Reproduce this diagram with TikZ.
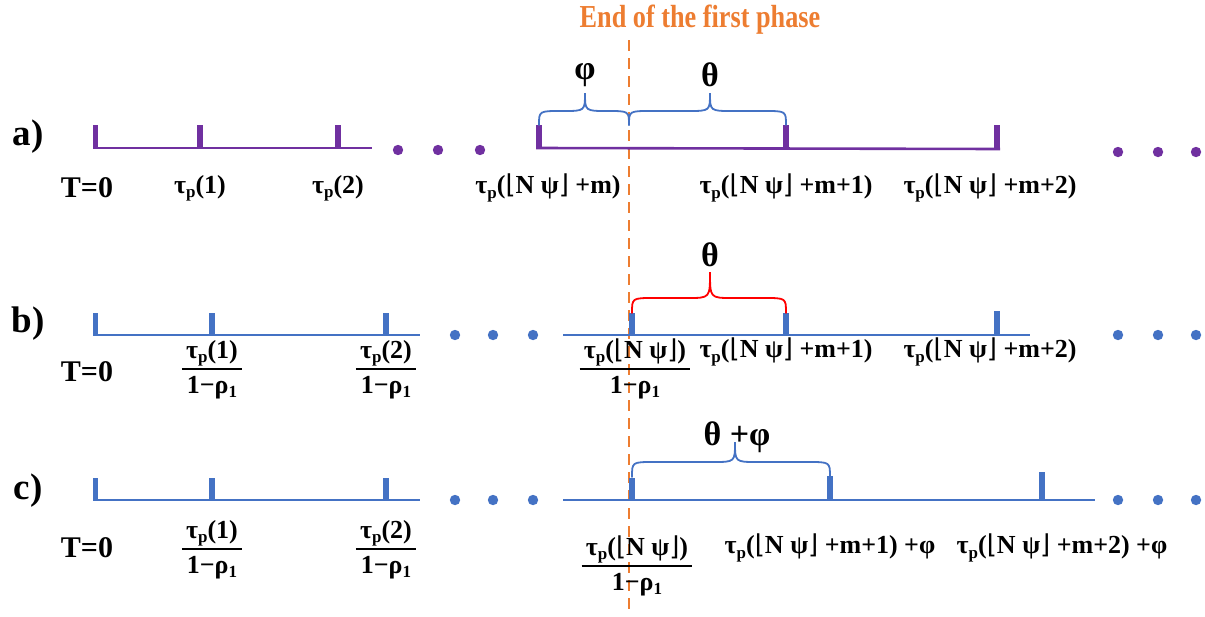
\documentclass[tikz,border=0pt]{standalone}
\usepackage{fontspec}
\setmainfont{Liberation Serif}
\newfontfamily\titlefnt{Liberation Serif}[FakeStretch=0.82]
\newfontfamily\symfnt{DejaVu Sans}
\usetikzlibrary{calc}
\definecolor{myorange}{RGB}{237,125,49}
\definecolor{mypurple}{RGB}{112,48,160}
\definecolor{myblue}{RGB}{68,114,196}
\definecolor{myred}{RGB}{255,0,0}
\setlength{\arrayrulewidth}{1.8pt}
\newcommand\flo{{\symfnt\mdseries ⌊}}
\newcommand\flc{{\symfnt\mdseries ⌋}}
\newcommand\psb[1]{\raisebox{-0.35ex}{\fontsize{17}{17}\selectfont #1}}
\newcommand\tp{τ\psb{p}}
\newcommand\Np{\flo N ψ\flc}
\newcommand\frc[2]{\begin{tabular}{@{\,}c@{\,}}#1\\\hline #2\end{tabular}}
\newcommand\rh{1−ρ\psb{1}}
\tikzset{
  lbl/.style={font=\fontsize{26}{33}\selectfont\bfseries, inner sep=0pt},
  tzero/.style={font=\fontsize{30}{36}\selectfont\bfseries, inner sep=0pt},
  rowlbl/.style={font=\fontsize{37}{42}\selectfont\bfseries, inner sep=0pt},
  greek/.style={font=\fontsize{34}{40}\selectfont\bfseries, inner sep=0pt},
  tline/.style={line width=2.6pt},
  brc/.style={line width=1.8pt, line cap=round},
}
\newcommand\tick[4]{\fill[#1] (#2-2.7,#3) rectangle (#2+2.7,#4);}
\newcommand\dotz[3]{\foreach \dx in {#2} {\fill[#1] (\dx,#3) circle (5.2);}}
% brace: color, x1, xm, x2, ytip, ymid, ypeak
\newcommand\mybrace[7]{\draw[brc,#1] (#2,#5) .. controls (#2,#6) and (#2,#6) .. (#2+22,#6) -- (#3-22,#6) .. controls (#3,#6) and (#3,#6) .. (#3,#7) .. controls (#3,#6) and (#3,#6) .. (#3+22,#6) -- (#4-22,#6) .. controls (#4,#6) and (#4,#6) .. (#4,#5);}
\begin{document}
\begin{tikzpicture}[x=1pt,y=-1pt]
\useasboundingbox (0,0) rectangle (1205,616);
% title and dashed line
\node[font=\fontsize{32}{36}\selectfont\titlefnt\bfseries, text=myorange, inner sep=0pt] (title) at (700,20) {End of the first phase};
\coordinate (dtop) at (629,40);
\coordinate (dbot) at (629,616);
\draw[myorange, line width=2.6pt, dash pattern=on 11pt off 7pt] (dtop) -- (dbot);

% ---------- row a ----------
\node[rowlbl] (la) at (28,137) {a)};
\coordinate (a0) at (93,148); \coordinate (a1) at (372,148);
\coordinate (a2) at (536,148); \coordinate (a3) at (1000,149);
\draw[tline, mypurple] (a0) -- (a1);
\draw[tline, mypurple] (a2) -- (a3);
\tick{mypurple}{95.5}{125}{148}
\tick{mypurple}{200}{125}{148}
\tick{mypurple}{338}{125}{148}
\tick{mypurple}{539}{125}{148}
\tick{mypurple}{786}{125}{148}
\tick{mypurple}{997}{125}{149}
\dotz{mypurple}{398,438,480}{150}
\dotz{mypurple}{1118,1158,1196}{152}
\mybrace{myblue}{539}{585}{629}{125}{111}{93}
\mybrace{myblue}{629}{710}{786}{125}{111}{93}
\node[greek] (phia) at (585,75) {φ};
\node[greek] (thetaa) at (710,75) {θ};
\node[tzero] (a_t0) at (87,188) {T=0};
\node[lbl] (a_t1) at (200,188) {\tp(1)};
\node[lbl] (a_t2) at (338,188) {\tp(2)};
\node[lbl] (a_t3) at (548,188) {\tp(\Np\ +m)};
\node[lbl] (a_t4) at (786,188) {\tp(\Np\ +m+1)};
\node[lbl] (a_t5) at (990,188) {\tp(\Np\ +m+2)};

% ---------- row b ----------
\node[rowlbl] (lb) at (28,324) {b)};
\coordinate (b0) at (93,335); \coordinate (b1) at (420,335);
\coordinate (b2) at (563,335); \coordinate (b3) at (1030,335);
\draw[tline, myblue] (b0) -- (b1);
\draw[tline, myblue] (b2) -- (b3);
\tick{myblue}{95.5}{313}{335}
\tick{myblue}{212}{313}{335}
\tick{myblue}{386}{313}{335}
\tick{myblue}{632}{313}{335}
\tick{myblue}{786}{313}{335}
\tick{myblue}{997}{311}{335}
\dotz{myblue}{455,493,533}{335}
\dotz{myblue}{1118,1158,1196}{335}
\mybrace{myred}{632}{710}{786}{313}{298}{272}
\node[greek] (thetab) at (710,255) {θ};
\node[tzero] (b_t0) at (87,372) {T=0};
\node[lbl] (b_t1) at (212,369) {\frc{\tp(1)}{\rh}};
\node[lbl] (b_t2) at (386,369) {\frc{\tp(2)}{\rh}};
\node[lbl] (b_t3) at (635,369) {\frc{\tp(\Np)}{\rh}};
\node[lbl] (b_t4) at (786,352) {\tp(\Np\ +m+1)};
\node[lbl] (b_t5) at (990,352) {\tp(\Np\ +m+2)};

% ---------- row c ----------
\node[rowlbl] (lc) at (28,491) {c)};
\coordinate (c0) at (93,500); \coordinate (c1) at (420,500);
\coordinate (c2) at (563,500); \coordinate (c3) at (1095,500);
\draw[tline, myblue] (c0) -- (c1);
\draw[tline, myblue] (c2) -- (c3);
\tick{myblue}{95.5}{478}{500}
\tick{myblue}{212}{478}{500}
\tick{myblue}{386}{478}{500}
\tick{myblue}{632}{478}{500}
\tick{myblue}{830}{476}{500}
\tick{myblue}{1042}{472}{500}
\dotz{myblue}{455,493,533}{500}
\dotz{myblue}{1118,1158,1196}{500}
\mybrace{myblue}{632}{735}{830}{477}{462}{442}
\node[greek] (thetac) at (737,437) {θ +φ};
\node[tzero] (c_t0) at (87,548) {T=0};
\node[lbl] (c_t1) at (212,549) {\frc{\tp(1)}{\rh}};
\node[lbl] (c_t2) at (386,549) {\frc{\tp(2)}{\rh}};
\node[lbl] (c_t3) at (637,566) {\frc{\tp(\Np)}{\rh}};
\node[lbl] (c_t4) at (830,548) {\tp(\Np\ +m+1) +φ};
\node[lbl] (c_t5) at (1062,548) {\tp(\Np\ +m+2) +φ};
\end{tikzpicture}
\end{document}
